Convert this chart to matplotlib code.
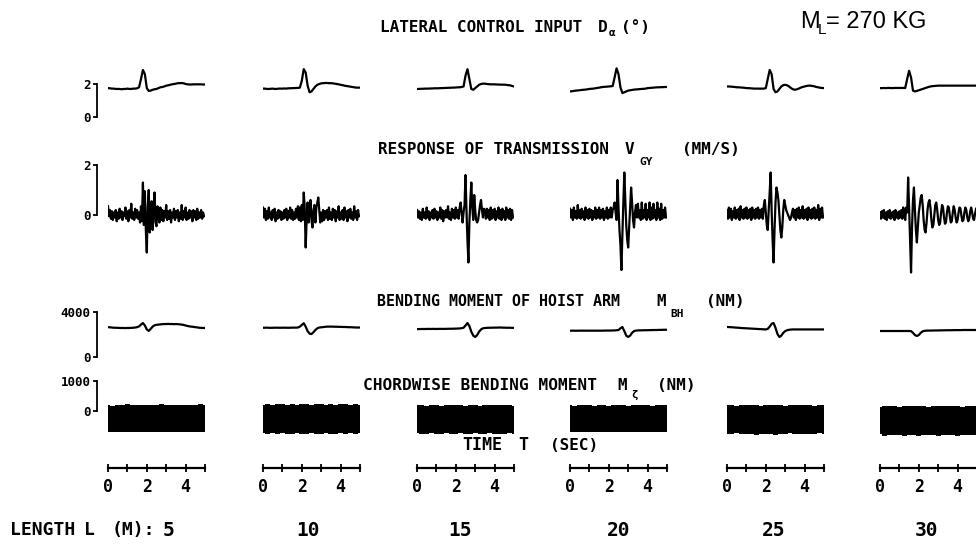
import numpy as np
import matplotlib
matplotlib.use('Agg')
import matplotlib.pyplot as plt

plt.rcParams['font.family'] = ['DejaVu Sans Mono', 'DejaVu Sans']
plt.rcParams['font.weight'] = 'bold'

W, H = 976, 548  # figure size in px (dpi 100)

# hoist arm lengths (m), one column each
lengths = [5, 10, 15, 20, 25, 30]

# lateral control input D_alpha (deg), sampled every 0.1 s over 0..5 s
lat_5 = [1.75, 1.74, 1.72, 1.72, 1.70, 1.70, 1.70, 1.68, 1.70, 1.70,
         1.72, 1.70, 1.70, 1.72, 1.72, 1.74, 1.80, 2.30, 2.85, 2.60,
         1.75, 1.58, 1.60, 1.65, 1.68, 1.70, 1.75, 1.80, 1.82, 1.85,
         1.90, 1.92, 1.95, 1.98, 2.00, 2.02, 2.05, 2.05, 2.06, 2.04,
         2.00, 1.98, 1.97, 1.97, 1.98, 1.98, 1.98, 1.98, 1.98, 1.97, 1.97]
lat_10 = [1.72, 1.72, 1.70, 1.70, 1.71, 1.72, 1.70, 1.70, 1.72, 1.72,
          1.72, 1.73, 1.72, 1.74, 1.74, 1.75, 1.75, 1.76, 1.76, 1.78,
          2.20, 2.90, 2.70, 1.90, 1.50, 1.55, 1.70, 1.85, 1.95, 2.00,
          2.04, 2.05, 2.06, 2.06, 2.05, 2.05, 2.04, 2.02, 2.00, 1.98,
          1.95, 1.93, 1.90, 1.88, 1.86, 1.84, 1.82, 1.80, 1.78, 1.78, 1.78]
lat_15 = [1.70, 1.70, 1.71, 1.71, 1.72, 1.72, 1.72, 1.73, 1.73, 1.74,
          1.74, 1.74, 1.75, 1.75, 1.76, 1.76, 1.77, 1.77, 1.78, 1.78,
          1.79, 1.80, 1.80, 1.82, 1.85, 2.50, 2.90, 2.30, 1.70, 1.65,
          1.75, 1.85, 1.95, 2.00, 2.02, 2.02, 2.00, 1.99, 1.98, 1.98,
          1.98, 1.97, 1.97, 1.96, 1.96, 1.96, 1.95, 1.93, 1.92, 1.88, 1.85]
lat_20 = [1.55, 1.56, 1.58, 1.60, 1.61, 1.62, 1.64, 1.65, 1.66, 1.68,
          1.70, 1.71, 1.72, 1.74, 1.76, 1.78, 1.80, 1.82, 1.83, 1.84,
          1.85, 1.86, 1.88, 2.40, 2.95, 2.60, 1.80, 1.45, 1.50, 1.55,
          1.60, 1.62, 1.64, 1.66, 1.67, 1.68, 1.69, 1.70, 1.71, 1.72,
          1.75, 1.76, 1.77, 1.78, 1.79, 1.80, 1.80, 1.81, 1.81, 1.82, 1.82]
lat_25 = [1.85, 1.85, 1.84, 1.83, 1.82, 1.80, 1.80, 1.79, 1.78, 1.77,
          1.75, 1.75, 1.74, 1.73, 1.72, 1.72, 1.72, 1.72, 1.72, 1.72,
          1.75, 2.30, 2.85, 2.60, 1.70, 1.50, 1.55, 1.70, 1.85, 1.93,
          1.95, 1.92, 1.85, 1.75, 1.68, 1.65, 1.68, 1.72, 1.78, 1.82,
          1.85, 1.88, 1.90, 1.90, 1.88, 1.86, 1.82, 1.80, 1.77, 1.76, 1.75]
lat_30 = [1.75, 1.75, 1.76, 1.75, 1.76, 1.76, 1.75, 1.76, 1.76, 1.76,
          1.76, 1.76, 1.76, 1.76, 2.30, 2.80, 2.40, 1.60, 1.55, 1.58,
          1.62, 1.66, 1.70, 1.74, 1.78, 1.82, 1.85, 1.87, 1.88, 1.89,
          1.90, 1.90, 1.90, 1.90, 1.90, 1.90, 1.90, 1.90, 1.90, 1.90,
          1.90, 1.90, 1.90, 1.90, 1.90, 1.90, 1.90, 1.90, 1.90, 1.90, 1.90]

# transmission response V_GY (mm/s), sampled every 0.05 s over 0..4.95 s
vgy_5 = [0.35, -0.05, 0.2, -0.15, 0.15, -0.2, 0.1, -0.1, 0.2, -0.25,
         0.1, -0.15, 0.25, -0.1, 0.15, -0.2, 0.1, -0.05, 0.3, -0.15,
         0.15, -0.25, 0.2, -0.1, 0.45, -0.15, 0.1, -0.2, 0.25, -0.1,
         0.2, -0.15, 0.1, -0.3, 0.35, -0.25, 1.3, -0.4, 0.95, -0.6,
         -1.5, 0.3, 1.0, -0.7, 0.2, 0.55, -0.6, 0.2, 0.9, -0.3,
         -0.45, 0.35, 0.1, -0.3, 0.3, -0.2, 0.2, -0.25, 0.15, -0.1,
         0.4, -0.2, 0.15, -0.15, 0.2, -0.3, 0.1, -0.1, 0.25, -0.2,
         0.15, -0.1, 0.2, -0.25, 0.1, -0.15, 0.4, -0.2, 0.15, -0.1,
         0.3, -0.2, 0.1, -0.15, 0.2, -0.1, 0.15, -0.25, 0.2, -0.1,
         0.15, -0.2, 0.25, -0.15, 0.1, -0.1, 0.2, -0.15, 0.1, -0.05]
vgy_10 = [0.3, -0.1, 0.25, -0.2, 0.15, -0.15, 0.3, -0.1, 0.1, -0.2,
          0.2, -0.1, 0.25, -0.25, 0.1, -0.15, 0.2, -0.1, 0.15, -0.2,
          0.1, -0.15, 0.2, -0.1, 0.25, -0.2, 0.15, -0.1, 0.3, -0.15,
          0.2, -0.2, 0.1, -0.15, 0.25, -0.1, 0.35, -0.2, 0.3, -0.25,
          0.4, -0.2, 0.9, 0.3, -1.3, -0.2, 0.5, -0.3, 0.2, 0.6,
          -0.2, -0.5, 0.2, 0.4, -0.3, 0.3, 0.5, 0.7, 0.2, -0.3,
          0.1, -0.25, 0.2, -0.2, 0.15, -0.1, 0.2, -0.2, 0.3, -0.15,
          0.1, -0.2, 0.25, -0.1, 0.2, -0.25, 0.15, -0.1, 0.35, -0.2,
          0.1, -0.15, 0.2, -0.2, 0.3, -0.1, 0.15, -0.25, 0.2, -0.1,
          0.25, -0.15, 0.1, -0.2, 0.35, -0.1, 0.15, -0.2, 0.2, -0.05]
vgy_15 = [0.2, -0.1, 0.15, -0.15, 0.1, -0.2, 0.25, -0.1, 0.1, -0.15,
          0.3, -0.1, 0.15, -0.2, 0.1, -0.1, 0.2, -0.15, 0.25, -0.1,
          0.15, -0.2, 0.1, -0.1, 0.3, -0.15, 0.2, -0.25, 0.15, -0.1,
          0.2, -0.1, 0.35, -0.15, 0.1, -0.2, 0.25, -0.1, 0.2, -0.15,
          0.3, -0.1, 0.2, -0.15, 0.3, 0.5, 0.1, -0.3, 0.1, 0.4,
          1.6, 0.2, -1.0, -1.9, -0.3, 0.6, 1.3, 0.3, -0.2, 0.8,
          0.2, -0.2, -0.3, -0.2, 0.1, 0.4, 0.6, 0.2, -0.1, 0.25,
          0.2, -0.15, 0.25, -0.1, 0.2, -0.2, 0.3, -0.15, 0.2, -0.1,
          0.25, -0.2, 0.15, -0.1, 0.3, -0.15, 0.2, -0.2, 0.25, -0.1,
          0.15, -0.2, 0.3, -0.1, 0.2, -0.15, 0.25, -0.2, 0.2, -0.1]
vgy_20 = [0.25, -0.1, 0.2, -0.2, 0.3, -0.1, 0.15, -0.15, 0.4, -0.1,
          0.2, -0.15, 0.25, -0.1, 0.15, -0.2, 0.3, -0.1, 0.2, -0.15,
          0.25, -0.1, 0.2, -0.2, 0.15, -0.1, 0.3, -0.15, 0.2, -0.1,
          0.3, -0.15, 0.2, -0.1, 0.25, -0.2, 0.15, -0.1, 0.3, -0.15,
          0.2, -0.1, 0.3, -0.1, 0.2, 0.3, 0.5, 0.1, -0.2, 1.4,
          0.3, -0.6, -1.2, -2.2, -0.8, 0.5, 1.7, 0.6, -0.4, -1.0,
          -1.3, -0.5, 0.3, 1.1, 0.5, -0.2, -0.5, 0.1, 0.4, -0.1,
          0.45, -0.1, 0.2, -0.2, 0.5, -0.15, 0.2, -0.1, 0.45, -0.2,
          0.2, -0.1, 0.5, -0.2, 0.3, -0.15, 0.45, -0.1, 0.2, -0.2,
          0.5, -0.1, 0.25, -0.2, 0.45, -0.15, 0.2, -0.1, 0.3, -0.1]
vgy_25 = [0.2, -0.15, 0.3, -0.1, 0.25, -0.2, 0.15, -0.1, 0.3, -0.15,
          0.2, -0.1, 0.25, -0.2, 0.35, -0.1, 0.2, -0.15, 0.25, -0.1,
          0.3, -0.15, 0.2, -0.1, 0.25, -0.2, 0.3, -0.1, 0.2, -0.15,
          0.25, -0.1, 0.3, -0.15, 0.2, -0.1, 0.25, -0.15, 0.4, 0.6,
          0.1, -0.4, -0.6, 0.2, 0.9, 1.7, 0.2, -1.0, -1.9, -0.6,
          0.5, 1.1, 0.9, 0.6, 0.0, -0.6, -0.9, -0.5, 0.2, 0.6,
          0.4, 0.2, 0.1, 0.0, -0.1, -0.2, -0.1, 0.1, 0.25, -0.1,
          0.2, -0.2, 0.25, -0.1, 0.3, -0.15, 0.2, -0.1, 0.35, -0.15,
          0.2, -0.1, 0.25, -0.2, 0.3, -0.1, 0.2, -0.15, 0.25, -0.1,
          0.3, -0.15, 0.2, -0.1, 0.4, -0.2, 0.25, -0.1, 0.3, -0.1]
vgy_30 = [0.1, -0.15, 0.15, -0.1, 0.2, -0.15, 0.1, -0.2, 0.15, -0.1,
          0.2, -0.15, 0.1, -0.1, 0.15, -0.2, 0.2, -0.1, 0.1, -0.15,
          0.15, -0.1, 0.2, -0.15, 0.3, 0.1, -0.2, 0.3, 0.1, 1.5,
          0.3, -1.0, -2.3, -0.5, 0.6, 1.1, 0.2, -0.6, -1.1, -0.5,
          0.1, 0.4, 0.7, 0.8, 0.4, -0.2, -0.6, -0.7, -0.3, 0.2,
          0.5, 0.6, 0.3, -0.2, -0.5, -0.4, 0.0, 0.4, 0.5, 0.2,
          -0.2, -0.4, -0.3, 0.1, 0.4, 0.3, -0.1, -0.35, -0.3, 0.1,
          0.35, 0.3, -0.05, -0.3, -0.25, 0.1, 0.35, 0.2, -0.1, -0.3,
          -0.2, 0.1, 0.3, 0.25, -0.05, -0.25, -0.2, 0.1, 0.3, 0.2,
          -0.1, -0.25, -0.15, 0.15, 0.3, 0.1, -0.15, -0.2, 0.05, 0.25]

# hoist arm bending moment M_BH (Nm), every 0.1 s
mbh_5 = [2650, 2640, 2620, 2600, 2600, 2590, 2580, 2580, 2580, 2570,
         2580, 2580, 2590, 2600, 2620, 2650, 2720, 2880, 3020, 2800,
         2450, 2320, 2500, 2700, 2820, 2860, 2880, 2900, 2920, 2930,
         2930, 2940, 2930, 2930, 2920, 2930, 2920, 2900, 2880, 2850,
         2800, 2760, 2720, 2700, 2680, 2650, 2630, 2600, 2590, 2580, 2580]
mbh_10 = [2600, 2600, 2610, 2600, 2590, 2600, 2600, 2610, 2600, 2600,
          2600, 2610, 2600, 2600, 2600, 2610, 2610, 2610, 2620, 2700,
          2850, 3000, 2700, 2300, 2080, 2040, 2200, 2400, 2550, 2620,
          2640, 2660, 2680, 2700, 2700, 2700, 2700, 2690, 2690, 2680,
          2680, 2670, 2670, 2660, 2650, 2650, 2640, 2630, 2620, 2620, 2620]
mbh_15 = [2480, 2480, 2490, 2490, 2490, 2490, 2500, 2490, 2500, 2500,
          2490, 2500, 2500, 2500, 2500, 2500, 2510, 2510, 2510, 2520,
          2520, 2530, 2540, 2560, 2600, 2800, 3020, 2750, 2250, 1900,
          1780, 1950, 2250, 2450, 2550, 2580, 2590, 2600, 2600, 2610,
          2610, 2610, 2620, 2620, 2610, 2610, 2600, 2600, 2600, 2590, 2590]
mbh_20 = [2340, 2340, 2340, 2330, 2340, 2340, 2340, 2340, 2340, 2340,
          2340, 2340, 2340, 2340, 2340, 2340, 2340, 2340, 2350, 2350,
          2350, 2350, 2360, 2360, 2380, 2400, 2550, 2670, 2300, 1900,
          1780, 1900, 2150, 2300, 2350, 2360, 2370, 2370, 2380, 2380,
          2380, 2390, 2390, 2400, 2400, 2400, 2410, 2410, 2420, 2420, 2420]
mbh_25 = [2670, 2660, 2650, 2640, 2620, 2610, 2600, 2580, 2570, 2560,
          2550, 2540, 2530, 2520, 2510, 2500, 2490, 2480, 2470, 2460,
          2450, 2500, 2700, 2950, 3020, 2600, 2050, 1780, 1900, 2150,
          2300, 2380, 2420, 2440, 2450, 2450, 2450, 2450, 2450, 2450,
          2450, 2450, 2450, 2450, 2450, 2450, 2450, 2450, 2450, 2450, 2450]
mbh_30 = [2310, 2310, 2310, 2310, 2310, 2310, 2310, 2310, 2310, 2310,
          2310, 2310, 2310, 2310, 2310, 2310, 2300, 2150, 1950, 1870,
          1950, 2150, 2280, 2330, 2340, 2350, 2350, 2350, 2360, 2360,
          2360, 2370, 2370, 2370, 2380, 2380, 2380, 2380, 2390, 2390,
          2390, 2390, 2390, 2400, 2400, 2400, 2400, 2400, 2400, 2400, 2400]

# chordwise bending moment M_zeta (Nm): upper / lower envelope of the band, every 0.25 s
mz_up_5 = [200, 180, 210, 190, 220, 200, 185, 215, 195, 205, 190, 220, 200, 185, 210, 195, 215, 190, 205, 220, 200]
mz_lo_5 = [-690, -700, -690, -710, -695, -700, -690, -705, -700, -690, -700, -710, -695, -700, -690, -705, -700, -695, -710, -700, -690]
mz_up_10 = [210, 230, 200, 220, 240, 215, 225, 200, 235, 220, 210, 245, 220, 205, 230, 215, 240, 220, 210, 230, 215]
mz_lo_10 = [-740, -750, -745, -760, -740, -750, -755, -745, -760, -750, -740, -755, -750, -745, -760, -750, -745, -755, -740, -750, -745]
mz_up_15 = [185, 200, 175, 195, 210, 180, 190, 205, 185, 195, 180, 200, 190, 175, 200, 185, 195, 210, 185, 190, 180]
mz_lo_15 = [-740, -750, -760, -745, -750, -755, -740, -760, -750, -745, -755, -750, -740, -760, -750, -745, -755, -750, -760, -745, -750]
mz_up_20 = [190, 175, 200, 185, 195, 180, 205, 190, 175, 200, 185, 195, 180, 200, 190, 185, 195, 175, 200, 190, 185]
mz_lo_20 = [-690, -700, -695, -705, -690, -700, -710, -695, -700, -690, -705, -700, -695, -710, -700, -690, -700, -705, -695, -700, -690]
mz_up_25 = [190, 200, 180, 195, 185, 205, 190, 180, 200, 185, 195, 190, 180, 200, 195, 185, 190, 200, 180, 195, 190]
mz_lo_25 = [-750, -770, -745, -780, -760, -750, -790, -755, -770, -760, -800, -750, -770, -745, -765, -780, -750, -770, -760, -745, -760]
mz_up_30 = [150, 170, 160, 175, 150, 165, 180, 155, 170, 160, 150, 175, 165, 155, 170, 160, 175, 150, 165, 170, 160]
mz_lo_30 = [-780, -830, -790, -810, -800, -840, -790, -800, -820, -790, -810, -800, -830, -790, -805, -800, -820, -790, -800, -810, -800]

lat = [lat_5, lat_10, lat_15, lat_20, lat_25, lat_30]
vgy = [vgy_5, vgy_10, vgy_15, vgy_20, vgy_25, vgy_30]
mbh = [mbh_5, mbh_10, mbh_15, mbh_20, mbh_25, mbh_30]
mz_up = [mz_up_5, mz_up_10, mz_up_15, mz_up_20, mz_up_25, mz_up_30]
mz_lo = [mz_lo_5, mz_lo_10, mz_lo_15, mz_lo_20, mz_lo_25, mz_lo_30]

t_01 = np.arange(51) * 0.1
t_005 = np.arange(100) * 0.05
t_025 = np.arange(21) * 0.25

# layout (pixels): left edge of each column's 5 s window, width of the window
col_x = [108, 263, 417, 570, 727, 880]
col_w = 97
# per row: pixel row of value 0, px per unit, y-limits, scale bar top, scale labels
rows = [
    dict(p0=117, k=16.5, ylim=(-0.3, 3.3), bar=2, lbl='2'),
    dict(p0=215, k=25.0, ylim=(-2.6, 2.2), bar=2, lbl='2'),
    dict(p0=357, k=45 / 4000, ylim=(-300, 4300), bar=4000, lbl='4000'),
    dict(p0=411, k=30 / 1000, ylim=(-900, 1100), bar=1000, lbl='1000'),
]

fig = plt.figure(figsize=(W / 100, H / 100), dpi=100)


def panel(x0, r):
    top_px = r['p0'] - r['k'] * r['ylim'][1]
    bot_px = r['p0'] - r['k'] * r['ylim'][0]
    ax = fig.add_axes([x0 / W, 1 - bot_px / H, col_w / W, (bot_px - top_px) / H])
    ax.set_xlim(0, 5)
    ax.set_ylim(*r['ylim'])
    ax.set_facecolor('none')
    for s in ax.spines.values():
        s.set_visible(False)
    ax.set_xticks([])
    ax.set_yticks([])
    return ax


for i, x0 in enumerate(col_x):
    axs = [panel(x0, r) for r in rows]
    axs[0].plot(t_01, lat[i], color='black', lw=1.6)
    axs[1].plot(t_005, vgy[i], color='black', lw=1.6)
    axs[2].plot(t_01, mbh[i], color='black', lw=1.6)
    axs[3].fill_between(t_025, mz_lo[i], mz_up[i], step='mid', color='black', lw=0)

    if i == 0:
        for ax, r in zip(axs, rows):
            sp = ax.spines['left']
            sp.set_visible(True)
            sp.set_position(('outward', 8))
            sp.set_bounds(0, r['bar'])
            sp.set_linewidth(1.3)
            ax.set_yticks([0, r['bar']])
            ax.set_yticklabels(['0', r['lbl']])
            ax.tick_params(axis='y', direction='out', length=3, width=1.3,
                           pad=1.5, labelsize=9)

    # time scale bar
    tax = fig.add_axes([x0 / W, 1 - 468 / H, col_w / W, 1 / H])
    tax.set_xlim(0, 5)
    tax.set_facecolor('none')
    for name, s in tax.spines.items():
        s.set_visible(name == 'bottom')
    tax.spines['bottom'].set_linewidth(1.6)
    tax.set_yticks([])
    tax.set_xticks([0, 2, 4])
    tax.set_xticks([1, 3, 5], minor=True)
    tax.tick_params(axis='x', which='both', direction='inout', length=6, width=1.3)
    tax.tick_params(axis='x', which='major', labelsize=12, pad=4)


def ftext(x, y, s, size, ha='left', **kw):
    fig.text(x / W, 1 - y / H, s, fontsize=size, ha=ha, va='center', **kw)


# row titles
ftext(380, 28, 'LATERAL CONTROL INPUT', 11.5)
ftext(598, 28, 'D', 11.5)
ftext(609, 33, 'α', 8)
ftext(621, 28, '(°)', 11.5)

ftext(378, 150, 'RESPONSE OF TRANSMISSION', 11.5)
ftext(625, 150, 'V', 11.5)
ftext(639, 162, 'GY', 8)
ftext(682, 150, '(MM/S)', 11.5)

ftext(377, 302, 'BENDING MOMENT OF HOIST ARM', 10.8)
ftext(656, 302, 'M', 11.5)
ftext(670, 314, 'BH', 8)
ftext(706, 302, '(NM)', 11.5)

ftext(363, 385, 'CHORDWISE BENDING MOMENT', 11.6)
ftext(617, 385, 'M', 11.5)
ftext(631, 395, 'ζ', 8)
ftext(657, 385, '(NM)', 11.5)

ftext(462, 445, 'TIME', 12)
ftext(518, 445, 'T', 12)
ftext(550, 445, '(SEC)', 11.5)

# mass label
fig.text(800 / W, 1 - 22 / H, 'M', fontsize=17, family='Liberation Sans',
         weight='normal', ha='left', va='center')
fig.text(818 / W, 1 - 30 / H, 'L', fontsize=11, family='Liberation Sans',
         weight='normal', ha='left', va='center')
fig.text(826 / W, 1 - 22 / H, '= 270 KG', fontsize=17, family='Liberation Sans',
         weight='normal', ha='left', va='center')

# length labels
ftext(10, 530, 'LENGTH', 13)
ftext(84, 530, 'L', 13)
ftext(112, 530, '(M):', 13)
len_t = [3.1, 2.3, 2.2, 2.5, 2.4, 2.4]
for x0, L, tt in zip(col_x, lengths, len_t):
    ftext(x0 + tt * col_w / 5, 530, str(L), 14, ha='center')

fig.savefig('out.png', dpi=100, facecolor='white')
